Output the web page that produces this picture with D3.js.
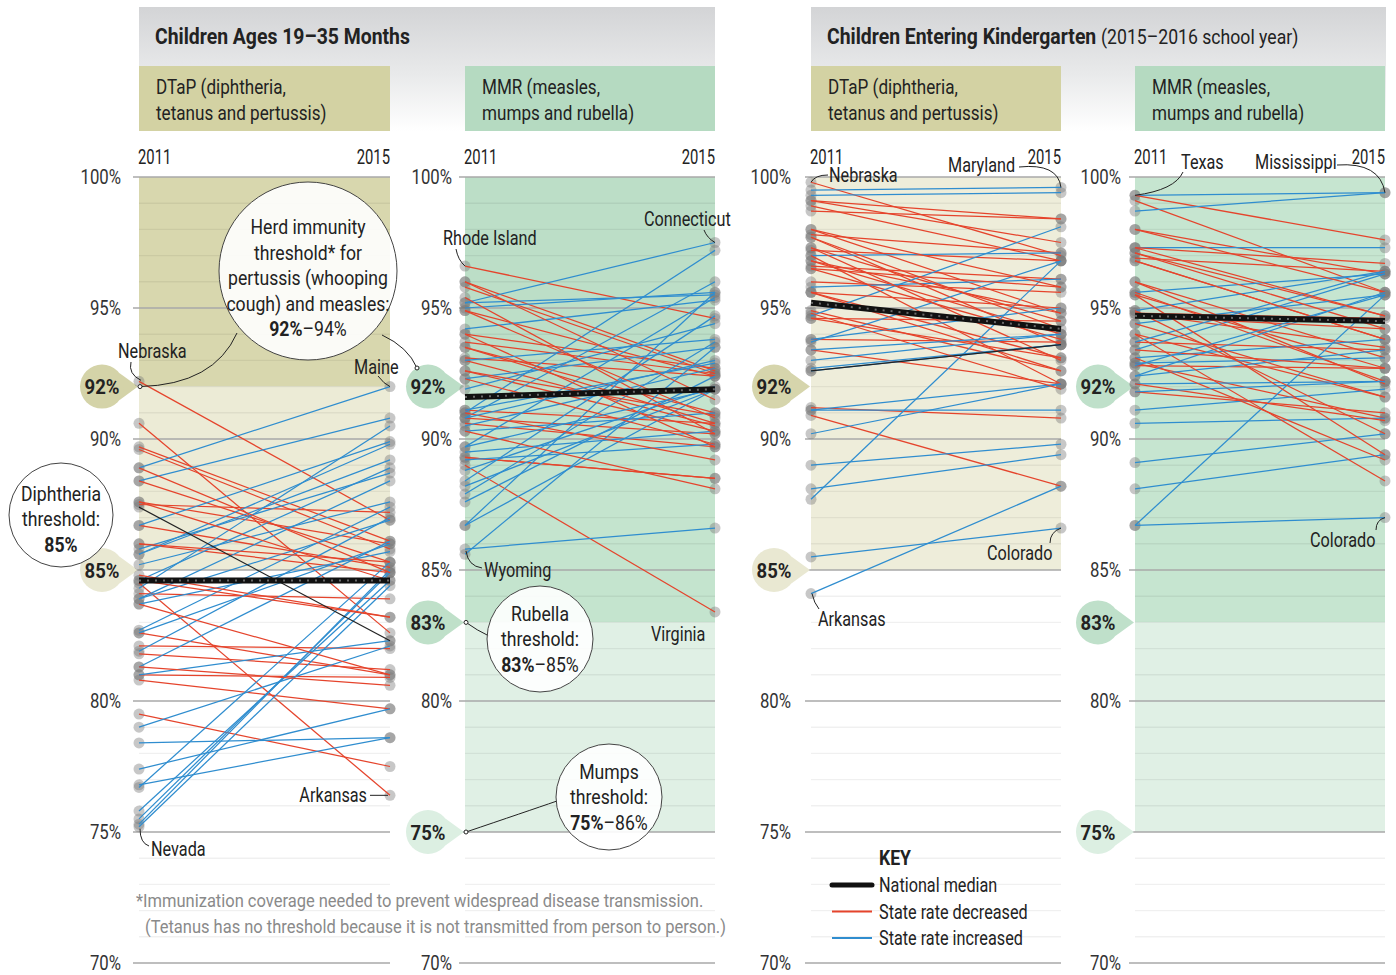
<!DOCTYPE html>
<html>
<head>
<meta charset="utf-8">
<script src="https://cdn.jsdelivr.net/npm/d3@7"></script>
<style>
  html, body { margin: 0; padding: 0; background: #fff; }
  svg { display: block; }
</style>
</head>
<body>
<svg id="chart" width="1396" height="975"></svg>
<script>
// ---- Vaccination coverage, 2011 vs 2015 (percent of children) ----
const years = ["2011", "2015"];

// Children 19–35 months, DTaP
const dtapToddler2011 = [92.2, 90.6, 89.7, 89.6, 88.9, 88.4, 88.4, 87.6, 87.5, 86.7, 86.7, 86.0, 85.8, 85.6, 85.2, 84.5, 84.3, 84.1, 83.9, 83.7, 82.7, 82.6, 82.1, 81.9, 81.8, 81.3, 81.0, 80.8, 79.5, 79.0, 78.4, 77.4, 76.8, 76.7, 75.8, 75.5, 75.3, 75.2, 85.6, 84.6, 83.9, 81.0, 81.3, 86.0, 88.9, 87.6, 84.8, 84.6, 82.6, 83.7];
const dtapToddler2015 = [86.9, 82.6, 86.1, 85.8, 92.0, 90.8, 85.3, 86.0, 87.2, 85.1, 89.9, 84.9, 88.7, 89.2, 87.6, 76.4, 90.5, 83.9, 88.4, 85.7, 87.4, 81.0, 82.0, 87.0, 81.2, 86.1, 80.9, 79.7, 77.5, 82.1, 78.6, 79.7, 78.6, 85.3, 84.6, 84.9, 85.0, 84.4, 89.8, 88.9, 86.9, 82.3, 80.6, 85.3, 84.9, 84.6, 83.2, 83.2, 86.0, 81.0];

// Children 19–35 months, MMR
const mmrToddler2011 = [96.6, 96.0, 95.8, 95.2, 95.2, 95.0, 94.9, 94.2, 94.0, 93.7, 93.5, 93.1, 93.0, 92.6, 92.3, 91.9, 91.1, 91.0, 90.8, 90.8, 90.6, 90.5, 90.3, 89.3, 89.7, 89.5, 89.3, 89.2, 89.0, 88.4, 88.2, 87.9, 87.6, 86.7, 86.7, 85.8, 85.6, 95.4, 94.0, 93.5, 92.3, 91.0, 90.3, 89.7, 90.8, 88.8, 91.1, 93.0, 92.6, 96.0, 94.9];
const mmrToddler2015 = [94.6, 92.6, 92.5, 97.5, 95.5, 95.6, 92.4, 95.3, 92.7, 92.5, 91.0, 92.4, 90.5, 90.3, 93.5, 94.4, 90.6, 97.2, 90.2, 96.0, 89.7, 92.7, 91.0, 88.5, 95.4, 90.3, 88.5, 89.8, 83.4, 94.7, 91.9, 93.7, 92.4, 95.6, 91.9, 86.6, 93.5, 90.2, 89.7, 90.6, 89.8, 89.2, 88.1, 91.9, 93.0, 92.0, 92.9, 93.8, 90.9, 91.5, 90.8];

// Children entering kindergarten, DTaP
const dtapKinder2011 = [99.8, 99.5, 99.3, 99.1, 98.9, 98.7, 98.0, 97.8, 97.7, 97.3, 97.2, 97.0, 96.8, 96.6, 96.5, 96.0, 95.8, 95.6, 94.9, 94.7, 94.6, 93.8, 93.7, 93.4, 93.0, 92.7, 91.2, 91.1, 90.9, 90.2, 89.0, 88.1, 87.7, 85.5, 84.1, 97.0, 96.8, 95.6, 98.0, 97.3, 93.8, 94.6, 92.6, 91.1, 96.5, 97.7, 99.1, 95.6, 94.8, 93.4];
const dtapKinder2015 = [97.0, 99.6, 99.4, 98.4, 96.8, 98.4, 94.8, 97.1, 93.6, 94.5, 96.8, 97.1, 94.0, 96.1, 93.8, 95.6, 96.1, 93.1, 92.6, 98.1, 94.5, 93.7, 96.8, 92.1, 94.0, 93.6, 90.8, 91.1, 88.2, 92.1, 89.8, 89.4, 96.8, 86.6, 88.2, 92.1, 94.8, 95.0, 95.8, 93.0, 95.0, 93.1, 93.6, 92.1, 95.8, 94.2, 97.5, 92.6, 91.9, 94.0];

// Children entering kindergarten, MMR
const mmrKinder2011 = [99.3, 99.3, 99.1, 98.7, 98.0, 97.3, 97.3, 97.1, 96.9, 96.8, 96.0, 95.6, 95.5, 94.9, 94.8, 94.8, 94.4, 94.0, 93.7, 93.4, 93.1, 92.9, 92.8, 92.4, 92.1, 91.8, 86.7, 86.7, 91.1, 90.6, 89.1, 88.1, 93.1, 94.0, 95.5, 92.1, 96.0, 97.1, 98.0, 93.7, 92.4, 94.7, 95.6, 92.9, 93.4, 96.8, 94.4, 91.8, 92.8, 97.3, 94.9];
const mmrKinder2015 = [99.4, 97.6, 95.6, 99.4, 96.3, 97.3, 96.7, 94.7, 96.4, 93.8, 93.1, 96.3, 92.7, 96.4, 94.6, 93.5, 95.5, 91.6, 93.4, 96.3, 93.8, 90.8, 92.7, 93.4, 92.2, 91.0, 95.5, 87.0, 91.9, 90.8, 90.2, 89.4, 89.2, 88.4, 89.4, 90.7, 92.1, 94.2, 95.6, 96.4, 95.6, 94.2, 92.2, 93.1, 92.7, 93.8, 91.6, 92.2, 95.5, 94.7, 90.2];

// National medians [2011, 2015] per panel
const medianDtapToddler = [84.6, 84.6];
const medianMmrToddler = [91.6, 91.9];
const medianDtapKinder = [95.2, 94.2];
const medianMmrKinder = [94.7, 94.5];

// Single states drawn in dark grey [2011, 2015]
const darkDtapToddler = [87.4, 82.3];
const darkDtapKinder = [92.6, 93.6];

// Herd-immunity thresholds marked on each axis
const thresholdsDtapToddler = [92, 85];
const thresholdsMmrToddler = [92, 83, 75];
const thresholdsDtapKinder = [92, 85];
const thresholdsMmrKinder = [92, 83, 75];

// Percent axis ticks
const majorTicks = [100, 95, 90, 85, 80, 75, 70];
const tickLabels = ["100%", "95%", "90%", "85%", "80%", "75%", "70%"];

// ---------------------------------------------------------------
const FONT = "Roboto, 'Liberation Sans', Arial, sans-serif";
const RED = "#e5442c", BLUE = "#2f8dcf";

const svg = d3.select("#chart");
const y = d3.scaleLinear().domain([70, 100]).range([963, 177]);

// horizontal squeeze that turns the regular face into a condensed one
const probe = svg.append("text").attr("font-family", FONT).attr("font-weight", "bold")
  .attr("font-size", 22).text("Children Ages 19–35 Months");
const K = 255 / probe.node().getComputedTextLength();
probe.remove();

// text helper: condensed text anchored at (x, y)
function T(parent, x, yy, str, o = {}) {
  const t = parent.append("text")
    .attr("transform", `translate(${x},${yy}) scale(${K * (o.sx || 1)},1)`)
    .attr("font-family", FONT)
    .attr("font-size", o.size || 20)
    .attr("font-weight", o.weight || "normal")
    .attr("fill", o.fill || "#222")
    .attr("text-anchor", o.anchor || "start");
  if (o.mid) t.attr("dy", "0.36em");
  if (str != null) t.text(str);
  return t;
}
const NARROW = 0.92;

const panels = [
  { a: dtapToddler2011, b: dtapToddler2015, med: medianDtapToddler, dark: darkDtapToddler,
    th: thresholdsDtapToddler, x0: 139, x1: 390, labelX: 121,
    bands: [[100, 92, "#d8d7ae"], [92, 85, "#ecebd6"]],
    bubble: { 92: "#d4d3a8", 85: "#e9e8d2" } },
  { a: mmrToddler2011, b: mmrToddler2015, med: medianMmrToddler, dark: null,
    th: thresholdsMmrToddler, x0: 465, x1: 715, labelX: 452,
    bands: [[100, 92, "#bcdec7"], [92, 83, "#c4e4ce"], [83, 75, "#e0f0e5"]],
    bubble: { 92: "#bcdec7", 83: "#bfe0c9", 75: "#dcefe2" } },
  { a: dtapKinder2011, b: dtapKinder2015, med: medianDtapKinder, dark: darkDtapKinder,
    th: thresholdsDtapKinder, x0: 811, x1: 1061, labelX: 791,
    bands: [[100, 85, "#eeedda"]],
    bubble: { 92: "#d6d5ac", 85: "#e9e8d2" } },
  { a: mmrKinder2011, b: mmrKinder2015, med: medianMmrKinder, dark: null,
    th: thresholdsMmrKinder, x0: 1135, x1: 1385, labelX: 1121,
    bands: [[100, 83, "#c6e5d0"], [83, 75, "#e0f0e5"]],
    bubble: { 92: "#bfe0ca", 83: "#bfe0ca", 75: "#dcefe2" } }
];

// ---- Header blocks ----
const defs = svg.append("defs");
const g = defs.append("linearGradient").attr("id", "hdr").attr("x1", 0).attr("x2", 0).attr("y1", 0).attr("y2", 1);
g.append("stop").attr("offset", "0%").attr("stop-color", "#d3d4d6");
g.append("stop").attr("offset", "55%").attr("stop-color", "#e9eaeb");
g.append("stop").attr("offset", "100%").attr("stop-color", "#ffffff");

[[139, 715], [811, 1386]].forEach(([l, r]) => {
  svg.append("rect").attr("x", l).attr("y", 7).attr("width", r - l).attr("height", 124).attr("fill", "url(#hdr)");
});

T(svg, 155, 44, "Children Ages 19–35 Months", { size: 22, weight: "bold" });
const kt = T(svg, 827, 44, null, { size: 22 });
kt.append("tspan").attr("font-weight", "bold").text("Children Entering Kindergarten ");
kt.append("tspan").attr("font-size", 20).text("(2015–2016 school year)");

const boxTexts = [
  ["DTaP (diphtheria,", "tetanus and pertussis)", "#d3d2a3"],
  ["MMR (measles,", "mumps and rubella)", "#b5dac1"],
  ["DTaP (diphtheria,", "tetanus and pertussis)", "#d3d2a3"],
  ["MMR (measles,", "mumps and rubella)", "#b5dac1"]
];
panels.forEach((p, i) => {
  svg.append("rect").attr("x", p.x0).attr("y", 66).attr("width", p.x1 - p.x0).attr("height", 65).attr("fill", boxTexts[i][2]);
  T(svg, p.x0 + 17, 94, boxTexts[i][0], { sx: 0.97 });
  T(svg, p.x0 + 17, 120, boxTexts[i][1], { sx: 0.97 });
});

// ---- Panels ----
panels.forEach((p, i) => {
  const x = d3.scalePoint().domain(years).range([p.x0, p.x1]);
  const pg = svg.append("g");

  // coloured threshold bands
  p.bands.forEach(([hi, lo, c]) => {
    pg.append("rect").attr("x", p.x0).attr("width", p.x1 - p.x0)
      .attr("y", y(hi)).attr("height", y(lo) - y(hi)).attr("fill", c);
  });

  // minor gridlines
  d3.range(71, 100).filter(v => v % 5 !== 0).forEach(v => {
    pg.append("line").attr("x1", p.x0).attr("x2", p.x1).attr("y1", y(v)).attr("y2", y(v))
      .attr("stroke", "#000").attr("stroke-opacity", 0.06).attr("stroke-width", 1.4);
  });
  // major gridlines
  majorTicks.forEach(v => {
    pg.append("line").attr("x1", p.x0 - 6).attr("x2", p.x1).attr("y1", y(v)).attr("y2", y(v))
      .attr("stroke", "#a9a9a9").attr("stroke-width", 1.4);
  });

  // tick labels (skipped where a threshold bubble sits)
  majorTicks.forEach((v, k) => {
    if (p.th.includes(v)) return;
    T(pg, p.labelX, y(v), tickLabels[k], { anchor: "end", mid: true, fill: "#333", sx: 0.95 });
  });

  // year labels
  T(pg, x("2011") - 1, 164, years[0], { sx: 0.84 });
  T(pg, x("2015"), 164, years[1], { anchor: "end", sx: 0.84 });

  // threshold bubbles
  p.th.forEach(v => {
    const cy = y(v), cx = p.x0 - 37, r = 22;
    const a = 38 * Math.PI / 180;
    const tail = `M${cx + r * Math.cos(a)},${cy - r * Math.sin(a)} L${p.x0 - 1},${cy} L${cx + r * Math.cos(a)},${cy + r * Math.sin(a)} Z`;
    pg.append("path").attr("d", tail).attr("fill", p.bubble[v]);
    pg.append("circle").attr("cx", cx).attr("cy", cy).attr("r", r).attr("fill", p.bubble[v]);
    T(pg, cx, cy, v + "%", { anchor: "middle", mid: true, weight: "bold", size: 21 });
  });

  // state dots
  const dots = pg.append("g");
  p.a.forEach((v, k) => {
    dots.append("circle").attr("cx", x("2011")).attr("cy", y(v)).attr("r", 5.5).attr("fill", "#7a7a7a").attr("fill-opacity", 0.42);
    dots.append("circle").attr("cx", x("2015")).attr("cy", y(p.b[k])).attr("r", 5.5).attr("fill", "#7a7a7a").attr("fill-opacity", 0.42);
  });
  if (p.dark) {
    p.dark.forEach((v, k) => dots.append("circle").attr("cx", x(years[k])).attr("cy", y(v)).attr("r", 5.5)
      .attr("fill", "#7a7a7a").attr("fill-opacity", 0.42));
  }

  // state slope lines
  const line = d3.line().x(d => x(d[0])).y(d => y(d[1]));
  p.a.forEach((v, k) => {
    const w = p.b[k];
    pg.append("path").attr("d", line([["2011", v], ["2015", w]]))
      .attr("stroke", w < v ? RED : BLUE).attr("stroke-width", 1.25).attr("fill", "none");
  });
  if (p.dark) {
    pg.append("path").attr("d", line([["2011", p.dark[0]], ["2015", p.dark[1]]]))
      .attr("stroke", "#222").attr("stroke-width", 1.25).attr("fill", "none");
  }

  // national median
  const md = line([["2011", p.med[0]], ["2015", p.med[1]]]);
  pg.append("path").attr("d", md).attr("stroke", "#111").attr("stroke-width", 6).attr("fill", "none");
  pg.append("path").attr("d", md).attr("stroke", "#6a6a6a").attr("stroke-width", 2)
    .attr("stroke-dasharray", "2,6").attr("fill", "none");
});

// ---- Annotation circles ----
function bubble(cx, cy, r, lines, lh, ty) {
  svg.append("circle").attr("cx", cx).attr("cy", cy).attr("r", r).attr("fill", "#fff")
    .attr("fill-opacity", 0.9).attr("stroke", "#444").attr("stroke-width", 1);
  const top = ty - (lines.length - 1) * lh / 2;
  lines.forEach((ln, i) => {
    const t = T(svg, cx, top + i * lh, null, { anchor: "middle", mid: true });
    if (Array.isArray(ln)) {
      t.append("tspan").attr("font-weight", "bold").text(ln[0]);
      t.append("tspan").text(ln[1]);
    } else t.text(ln);
  });
}
function leader(d) {
  svg.append("path").attr("d", d).attr("fill", "none").attr("stroke", "#222").attr("stroke-width", 1);
}
function ring(cx, cy) {
  svg.append("circle").attr("cx", cx).attr("cy", cy).attr("r", 2).attr("fill", "#fff").attr("stroke", "#222").attr("stroke-width", 1);
}

const x1L = panels[0].x0, x2L = panels[1].x0;
leader(`M${x1L + 1},${y(92)} Q${x1L + 75},${y(92) - 2} ${237},${333}`);
leader(`M382,335 Q408,347 ${417},${368}`);
bubble(308, 271, 89, ["Herd immunity", "threshold* for", "pertussis (whooping", "cough) and measles:", ["92%", "–94%"]], 25.5, 278);
ring(x1L + 1, y(92));
ring(417, 368);

bubble(61, 515, 52, ["Diphtheria", "threshold:", ["85%", ""]], 25.5, 519);

leader(`M${x2L + 1},${y(83)} Q${x2L + 12},${y(83) + 8} 489,636`);
bubble(540, 639, 53, ["Rubella", "threshold:", ["83%", "–85%"]], 25.5, 639);
ring(x2L + 1, y(83));

leader(`M${x2L + 1},${y(75)} Q${x2L + 60},${y(75) - 20} 557,801`);
bubble(609, 797, 53, ["Mumps", "threshold:", ["75%", "–86%"]], 25.5, 797);
ring(x2L + 1, y(75));

// ---- State labels ----
function stateLabel(text, tx, ty, anchor) {
  T(svg, tx, ty, text, { anchor: anchor || "start", mid: true, sx: NARROW });
}
const P = panels;
// panel 1
stateLabel("Nebraska", 118, 351);
leader(`M131,362 Q128,374 ${P[0].x0 + 2},${y(dtapToddler2011[0]) - 1}`);
stateLabel("Maine", 354, 367);
leader(`M378,376 Q384,384 ${P[0].x1},${y(dtapToddler2015[4])}`);
stateLabel("Arkansas", 367, 795, "end");
leader(`M370,${y(dtapToddler2015[15])} L${P[0].x1 - 2},${y(dtapToddler2015[15])}`);
stateLabel("Nevada", 151, 849);
leader(`M${P[0].x0 + 1},${y(dtapToddler2011[37]) + 2} Q${P[0].x0 + 1},${843} 149,846`);
// panel 2
stateLabel("Rhode Island", 443, 238);
leader(`M456,249 Q458,260 ${P[1].x0},${y(mmrToddler2011[0])}`);
stateLabel("Connecticut", 644, 219);
leader(`M704,230 Q707,238 ${P[1].x1},${y(mmrToddler2015[3])}`);
stateLabel("Wyoming", 484, 570);
leader(`M${P[1].x0 + 1},${y(mmrToddler2011[35]) + 2} Q468,566 482,568`);
stateLabel("Virginia", 651, 634);
// panel 3
stateLabel("Nebraska", 829, 175);
leader(`M${P[2].x0},${y(dtapKinder2011[0])} Q815,175 828,175`);
stateLabel("Maryland", 948, 165);
leader(`M1019,167 Q1058,163 ${P[2].x1},${y(dtapKinder2015[1])}`);
stateLabel("Colorado", 987, 553);
leader(`M1050,543 Q1050,532 ${P[2].x1},${y(dtapKinder2015[33])}`);
stateLabel("Arkansas", 818, 619);
leader(`M${P[2].x0 + 1},${y(dtapKinder2011[34])} Q814,603 819,609`);
// panel 4
stateLabel("Texas", 1181, 162);
leader(`M${P[3].x0},${y(mmrKinder2011[0])} Q1175,190 1183,172`);
stateLabel("Mississippi", 1255, 162);
leader(`M1337,165 Q1380,162 ${P[3].x1},${y(mmrKinder2015[0])}`);
stateLabel("Colorado", 1310, 540);
leader(`M1376,530 Q1376,520 ${P[3].x1},${y(mmrKinder2015[27])}`);

// ---- Footnote ----
T(svg, 136, 907, "*Immunization coverage needed to prevent widespread disease transmission.", { size: 19, fill: "#8a8a8a", sx: 0.985 });
T(svg, 145, 933, "(Tetanus has no threshold because it is not transmitted from person to person.)", { size: 19, fill: "#8a8a8a", sx: 0.985 });

// ---- Key ----
const key = svg.append("g");
T(key, 879, 858, "KEY", { weight: "bold", mid: true });
[["National median", "#111", 5], ["State rate decreased", RED, 2], ["State rate increased", BLUE, 2]].forEach((d, i) => {
  const yy = 885 + i * 26.5;
  key.append("line").attr("x1", 832).attr("x2", 872).attr("y1", yy).attr("y2", yy)
    .attr("stroke", d[1]).attr("stroke-width", d[2]).attr("stroke-linecap", i === 0 ? "round" : "butt");
  T(key, 879, yy, d[0], { mid: true, sx: NARROW });
});
</script>
</body>
</html>
